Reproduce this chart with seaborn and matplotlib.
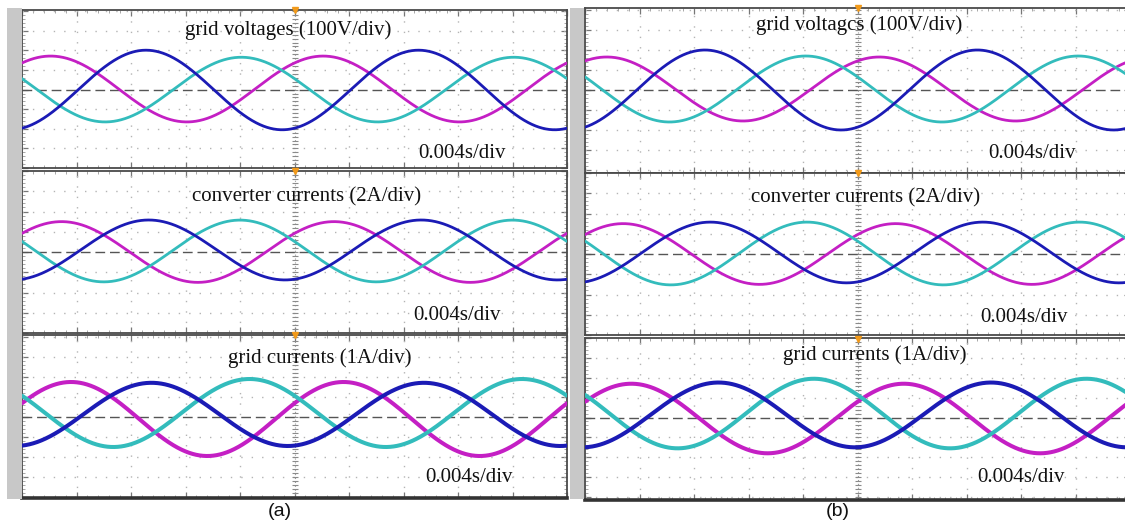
import numpy as np
import pandas as pd
import matplotlib
matplotlib.use("Agg")
import matplotlib.pyplot as plt
from matplotlib.patches import Rectangle
from matplotlib.transforms import blended_transform_factory
import seaborn as sns

# ---------------------------------------------------------------------------
# Scope settings
# ---------------------------------------------------------------------------
MS_PER_DIV = 4.0          # 0.004 s/div
N_DIV_X = 10
PERIOD_MS = 20.0          # 50 Hz mains

phases = ["a", "b", "c"]
phase_colors = {"a": "#c41fc4", "b": "#1b1bb5", "c": "#33bcbc"}

titles_left = ["grid voltages (100V/div)", "converter currents (2A/div)", "grid currents (1A/div)"]
titles_right = ["grid voltagcs (100V/div)", "converter currents (2A/div)", "grid currents (1A/div)"]
time_label = "0.004s/div"
units_per_div = [100.0, 2.0, 1.0]     # V/div, A/div, A/div

# Measured traces: peak amplitude, time of first peak (ms), dc offset -- phases a, b, c
# case (a)
amp_a_volt = [168.0, 203.0, 165.0]
peak_a_volt = [2.1, 9.1, 16.1]
off_a_volt = [3.0, -2.0, 0.0]

amp_a_conv = [3.0, 2.96, 3.05]
peak_a_conv = [2.9, 9.3, 16.0]
off_a_conv = [0.0, 0.2, 0.1]

amp_a_grid = [1.85, 1.58, 1.70]
peak_a_grid = [3.6, 9.5, 16.7]
off_a_grid = [-0.1, 0.13, 0.2]

# case (b)
amp_b_volt = [160.0, 200.0, 165.0]
peak_b_volt = [1.6, 8.8, 16.2]
off_b_volt = [5.0, 0.0, 5.0]

amp_b_conv = [3.0, 3.0, 3.1]
peak_b_conv = [2.8, 9.2, 16.3]
off_b_conv = [0.0, 0.15, 0.05]

amp_b_grid = [1.75, 1.63, 1.75]
peak_b_grid = [3.4, 9.8, 16.8]
off_b_grid = [-0.05, 0.13, 0.2]

# ---------------------------------------------------------------------------
W, H = 1125, 523
fig = plt.figure(figsize=(W / 100, H / 100), dpi=100)
sns.set_theme(style="white")
plt.rcParams["font.family"] = ["Liberation Serif", "DejaVu Serif"]


def px_axes(x0, y0, x1, y1):
    return fig.add_axes([x0 / W, 1 - y1 / H, (x1 - x0) / W, (y1 - y0) / H])


def trace_frame(amp, peak, off):
    t = np.linspace(0, N_DIV_X * MS_PER_DIV, 1601)
    rows = []
    for ph, a, tp, o in zip(phases, amp, peak, off):
        v = o + a * np.cos(2 * np.pi * (t - tp) / PERIOD_MS)
        rows.append(pd.DataFrame({"t": t, "v": v, "phase": ph}))
    return pd.concat(rows, ignore_index=True)


# grey side strips of the scope screens
for x0, x1 in [(7, 22), (570, 584)]:
    fig.patches.append(Rectangle((x0 / W, 1 - 499 / H), (x1 - x0) / W, (499 - 8) / H,
                                 transform=fig.transFigure, facecolor="#c8c8c8",
                                 edgecolor="none", zorder=0))

panels = [
    # column, row, pixel box, divisions below / above reference, data
    ("L", 0, (22, 10, 567, 168), (3.76, 4.06), (amp_a_volt, peak_a_volt, off_a_volt)),
    ("L", 1, (22, 171, 567, 333), (3.99, 3.99), (amp_a_conv, peak_a_conv, off_a_conv)),
    ("L", 2, (22, 335, 567, 498), (4.05, 4.10), (amp_a_grid, peak_a_grid, off_a_grid)),
    ("R", 0, (585, 8, 1130, 173), (4.15, 4.10), (amp_b_volt, peak_b_volt, off_b_volt)),
    ("R", 1, (585, 173, 1130, 335), (4.00, 4.00), (amp_b_conv, peak_b_conv, off_b_conv)),
    ("R", 2, (585, 338, 1130, 500), (4.15, 3.95), (amp_b_grid, peak_b_grid, off_b_grid)),
]

title_pos = {
    ("L", 0): (288, 30), ("L", 1): (307, 197), ("L", 2): (320, 358),
    ("R", 0): (859, 25), ("R", 1): (866, 198), ("R", 2): (875, 355),
}
time_pos = {
    ("L", 0): (418, 153), ("L", 1): (413, 315), ("L", 2): (425, 477),
    ("R", 0): (988, 153), ("R", 1): (980, 317), ("R", 2): (977, 477),
}

grid_col = "#b4b4b4"
for col, row, box, (below, above), (amp, peak, off) in panels:
    u = units_per_div[row]
    ax = px_axes(*box)
    ax.set_facecolor("white")
    tmax = N_DIV_X * MS_PER_DIV
    ax.set_xlim(0, tmax)
    ax.set_ylim(-below * u, above * u)

    # graticule
    for k in range(1, N_DIV_X):
        if k != 5:
            ax.axvline(k * MS_PER_DIV, color=grid_col, lw=1.0, ls=(0, (1, 6.5)), zorder=1)
    for k in range(-4, 5):
        if k != 0 and -below < k < above:
            ax.axhline(k * u, color=grid_col, lw=1.0, ls=(0, (1, 6.5)), zorder=1)
    # centre ruler with sub-division ticks
    ax.axvline(tmax / 2, color="#9a9a9a", lw=0.8, ls=(0, (1, 2.5)), zorder=1)
    sub = np.arange(-4, 4.01, 0.2) * u
    ax.plot(np.full(sub.size, tmax / 2), sub, ls="none", marker="_", ms=4,
            mew=0.8, color="#8a8a8a", zorder=1)
    # channel reference level
    ax.axhline(0, color="#555555", lw=1.0, ls=(0, (7, 3.5)), zorder=2)

    df = trace_frame(amp, peak, off)
    lw = 2.9 if row == 2 else 2.0
    sns.lineplot(data=df, x="t", y="v", hue="phase", palette=phase_colors,
                 hue_order=["a", "c", "b"], legend=False, ax=ax, lw=lw,
                 estimator=None, sort=False, zorder=3)

    ax.set_xticks(np.arange(0, tmax + 0.1, MS_PER_DIV))
    ax.set_yticks(np.arange(-4, 5) * u)
    ax.set_yticks(sub, minor=True)
    ax.set_xticks(np.arange(0, tmax + 0.1, MS_PER_DIV / 5), minor=True)
    ax.tick_params(which="major", direction="in", length=4, width=0.9, color="#777777",
                   top=True, bottom=True, left=True, right=True,
                   labelbottom=False, labelleft=False)
    ax.tick_params(which="minor", direction="in", length=2, width=0.6, color="#999999",
                   top=True, bottom=True, left=True, right=True)
    ax.set_xlabel("")
    ax.set_ylabel("")
    for s in ax.spines.values():
        s.set_color("#4a4a4a")
        s.set_linewidth(1.3)
    if row == 2:
        ax.spines["bottom"].set_linewidth(2.6)
        ax.spines["bottom"].set_color("#333333")

    # trigger position mark and channel marker
    ax.plot([tmax / 2], [above * u], marker="v", ms=5, color="#f29a1a",
            clip_on=False, zorder=5)
    mk_x = -0.018 if col == "L" else -0.015
    tr = blended_transform_factory(ax.transAxes, ax.transData)
    ax.plot([mk_x], [0], marker=">", ms=5, color="#c41fc4", transform=tr,
            clip_on=False, zorder=5)

    titles = titles_left if col == "L" else titles_right
    tx, ty = title_pos[(col, row)]
    fig.text(tx / W, 1 - ty / H, titles[row], ha="center", va="center",
             fontsize=15, color="#111111")
    lx, ly = time_pos[(col, row)]
    fig.text(lx / W, 1 - ly / H, time_label, ha="left", va="center",
             fontsize=15, color="#111111")

for label, x in [("(a)", 280), ("(b)", 838)]:
    fig.text(x / W, 1 - 512 / H, label, ha="center", va="center", fontsize=14,
             family=["Liberation Sans", "DejaVu Sans"], color="#111111")

fig.savefig("out.png", dpi=100, facecolor="white")
